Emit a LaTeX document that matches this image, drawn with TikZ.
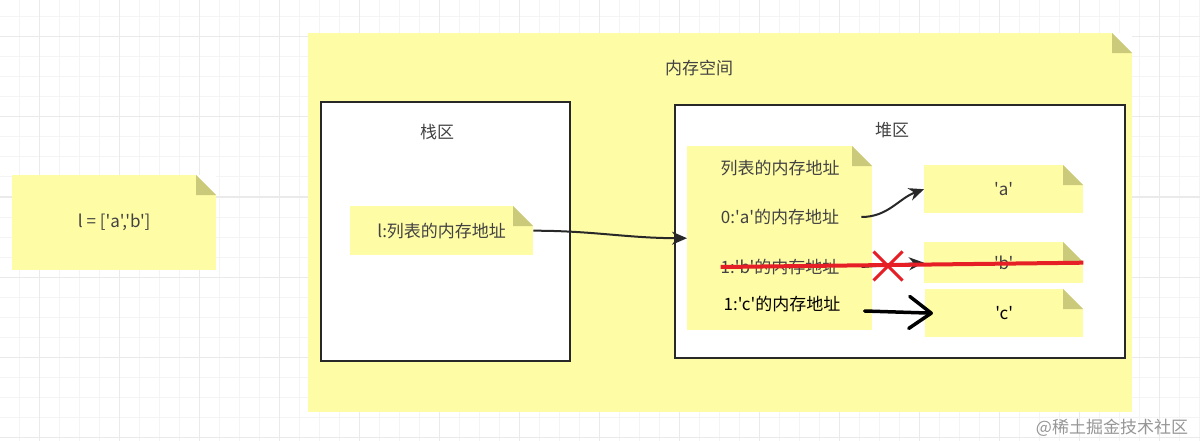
\documentclass[tikz,border=0pt]{standalone}
\usepackage{fontspec}
\setmainfont{Noto Sans CJK SC}[Ligatures=TeXOff]
\usetikzlibrary{arrows.meta, shapes.misc}

\definecolor{notefill}{RGB}{255,252,166}
\definecolor{foldfill}{RGB}{203,201,122}
\definecolor{boxline}{RGB}{40,40,40}
\definecolor{txtgray}{RGB}{66,66,66}
\definecolor{strikered}{RGB}{230,30,38}
\definecolor{gridminor}{RGB}{244,244,244}
\definecolor{gridmajor}{RGB}{234,234,234}
\definecolor{markgray}{RGB}{150,150,150}

\begin{document}
\begin{tikzpicture}[x=1pt, y=-1pt,
    every node/.style={font=\fontsize{17}{20}\selectfont, text=txtgray},
    note/.style={rectangle, fill=notefill, inner sep=0pt, anchor=north west,
        path picture={
            \fill[white] ([xshift=-20pt]path picture bounding box.north east) -- (path picture bounding box.north east) -- ([yshift=-20pt]path picture bounding box.north east) -- cycle;
            \fill[foldfill] ([xshift=-20pt]path picture bounding box.north east) |- ([yshift=-20pt]path picture bounding box.north east) -- cycle;
        }},
    region/.style={rectangle, draw=boxline, line width=2pt, fill=white, inner sep=0pt, anchor=north west},
    txt/.style={inner sep=0pt},
    arrow/.style={draw=boxline, line width=2pt, -{Stealth[length=15pt, width=13pt]}},
    strike/.style={draw=strikered, line width=4pt},
    pen/.style={draw=black, line width=3.5pt, line cap=round, -{Straight Barb[round, length=22pt, width=32pt]}}]
    \useasboundingbox (0,0) rectangle (1200,441);
    \fill[white] (0,0) rectangle (1200,441);
    \foreach \gx in {19,39,...,1199} \draw[gridminor, line width=1pt] (\gx,0) -- (\gx,441);
    \foreach \gy in {17,37,...,437} \draw[gridminor, line width=1pt] (0,\gy) -- (1200,\gy);
    \foreach \gx in {39,119,...,1199} \draw[gridmajor, line width=1pt] (\gx,0) -- (\gx,441);
    \foreach \gy in {37,117,...,437} \draw[gridmajor, line width=1pt] (0,\gy) -- (1200,\gy);

    \node[note, minimum width=204pt, minimum height=95pt] (lnote) at (12,175) {l = ['a','b']};

    \node[note, minimum width=824pt, minimum height=379pt] (mem) at (308,33) {};
    \node[txt] (memtitle) at (699,68) {内存空间};

    \node[region, minimum width=249pt, minimum height=259pt] (stack) at (320,101) {};
    \node[txt] (stacktitle) at (437,132) {栈区};
    \node[region, minimum width=450pt, minimum height=253pt] (heap) at (674,104) {};
    \node[txt] (heaptitle) at (892,130) {堆区};

    \node[note, minimum width=183pt, minimum height=49pt] (saddr) at (350,206) {l:列表的内存地址};

    \node[note, minimum width=185pt, minimum height=184pt] (hlist) at (687,146) {};
    \node[txt] (row0) at (780,168) {列表的内存地址};
    \node[txt] (rowa) at (780,217) {0:'a'的内存地址};
    \node[txt] (rowb) at (780,267) {1:'b'的内存地址};
    \node[txt, text=black] (rowc) at (782,304) {1:'c'的内存地址};

    \node[note, minimum width=159pt, minimum height=48pt] (na) at (924,165) {'a'};
    \node[note, minimum width=159pt, minimum height=41pt] (nb) at (924,242) {'b'};
    \node[note, minimum width=158pt, minimum height=48pt, text=black] (nc) at (925,289) {'c'};

    \draw[arrow] (saddr.east) to[out=0, in=180] (hlist.west);
    \draw[arrow] ([xshift=22pt]rowa.east) to[out=0, in=200] (na.west);
    \draw[arrow] ([xshift=22pt]rowb.east) -- (nb.west);

    \draw[strike] (rowb.west) -- (nb.east);
    \node[draw=strikered, cross out, line width=3pt, minimum size=26pt, inner sep=0pt] (xmark) at (888,266) {};
    \draw[pen] ([xshift=24pt, yshift=-7pt]rowc.east) -- ([xshift=8pt]nc.west);

    \node[txt, text=markgray] (mark) at (1112,428) {@稀土掘金技术社区};
\end{tikzpicture}
\end{document}
